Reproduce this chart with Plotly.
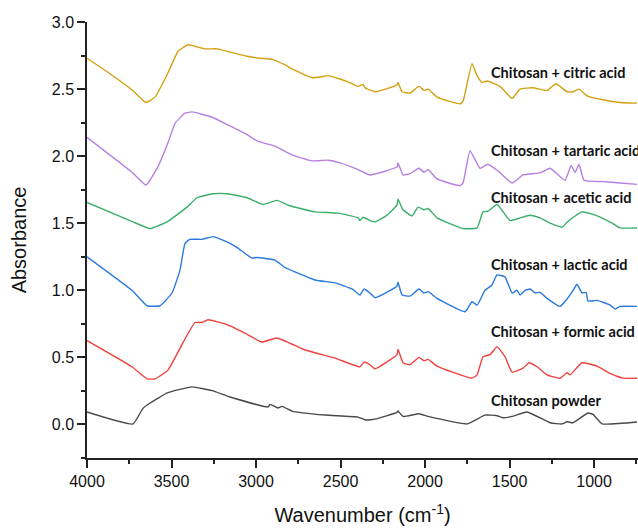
import plotly.graph_objects as go

# ---- data (wavenumber in cm-1, absorbance) ----
wn_citric = [4000, 3870, 3730, 3651, 3598, 3521, 3462, 3402, 3302, 3225, 3154, 3053, 2976, 2899, 2828, 2787,
             2669, 2620, 2574, 2503, 2450, 2396, 2367, 2355, 2296, 2166, 2160, 2136, 2089, 2036, 2006, 1982,
             1929, 1793, 1775, 1722, 1692, 1663, 1633, 1556, 1485, 1438, 1361, 1278, 1225, 1160, 1124, 1089,
             1041, 947, 846, 746]
abs_citric = [2.73, 2.62, 2.49, 2.40, 2.44, 2.62, 2.78, 2.83, 2.80, 2.80, 2.775, 2.745, 2.73, 2.72, 2.68, 2.65,
              2.585, 2.59, 2.60, 2.575, 2.55, 2.52, 2.535, 2.51, 2.48, 2.53, 2.55, 2.48, 2.47, 2.52, 2.49, 2.50,
              2.44, 2.39, 2.41, 2.69, 2.60, 2.55, 2.56, 2.52, 2.43, 2.50, 2.51, 2.49, 2.54, 2.48, 2.48, 2.50,
              2.45, 2.42, 2.40, 2.395]

wn_tartaric = [4000, 3734, 3651, 3581, 3521, 3479, 3420, 3379, 3260, 3154, 3053, 2988, 2888, 2787, 2669, 2574,
               2503, 2396, 2326, 2166, 2160, 2130, 2089, 2036, 2006, 1982, 1929, 1793, 1775, 1734, 1675, 1627,
               1568, 1485, 1420, 1320, 1260, 1172, 1136, 1112, 1089, 1059, 947, 846, 746]
abs_tartaric = [2.14, 1.88, 1.785, 1.92, 2.10, 2.245, 2.32, 2.33, 2.29, 2.225, 2.16, 2.11, 2.075, 2.01, 1.965, 1.97,
                1.95, 1.90, 1.86, 1.92, 1.95, 1.86, 1.87, 1.91, 1.88, 1.90, 1.83, 1.78, 1.80, 2.04, 1.91, 1.94,
                1.89, 1.80, 1.86, 1.875, 1.91, 1.82, 1.93, 1.88, 1.94, 1.82, 1.81, 1.80, 1.79]

wn_acetic = [4000, 3728, 3627, 3527, 3408, 3349, 3254, 3172, 3053, 2959, 2876, 2799, 2651, 2515, 2396, 2385,
             2367, 2326, 2296, 2225, 2166, 2160, 2130, 2077, 2041, 2006, 1982, 1929, 1775, 1692, 1657, 1627,
             1574, 1497, 1438, 1379, 1320, 1260, 1189, 1154, 1071, 982, 893, 846, 746]
abs_acetic = [1.655, 1.51, 1.46, 1.51, 1.62, 1.69, 1.72, 1.72, 1.69, 1.64, 1.67, 1.63, 1.585, 1.575, 1.54, 1.52,
              1.545, 1.52, 1.51, 1.56, 1.635, 1.68, 1.60, 1.555, 1.62, 1.60, 1.61, 1.54, 1.46, 1.465, 1.585, 1.59,
              1.64, 1.52, 1.54, 1.56, 1.54, 1.50, 1.47, 1.515, 1.585, 1.555, 1.50, 1.465, 1.465]

wn_lactic = [4000, 3734, 3645, 3568, 3497, 3450, 3420, 3391, 3320, 3254, 3154, 3107, 3024, 2994, 2888, 2828,
             2651, 2533, 2432, 2385, 2361, 2326, 2296, 2166, 2160, 2136, 2089, 2036, 2006, 1982, 1929, 1763,
             1722, 1692, 1645, 1604, 1574, 1527, 1485, 1456, 1438, 1408, 1379, 1349, 1320, 1278, 1201, 1160,
             1124, 1101, 1071, 1047, 1036, 982, 905, 876, 846, 746]
abs_lactic = [1.25, 1.00, 0.885, 0.885, 0.98, 1.15, 1.35, 1.38, 1.38, 1.40, 1.35, 1.315, 1.24, 1.245, 1.225, 1.17,
              1.077, 1.055, 1.01, 0.965, 1.01, 0.98, 0.945, 1.03, 1.06, 0.965, 0.957, 1.01, 0.98, 0.99, 0.94, 0.84,
              0.915, 0.89, 1.00, 1.04, 1.115, 1.10, 0.98, 1.00, 0.965, 1.00, 1.01, 0.98, 0.985, 0.94, 0.88, 0.935,
              1.00, 1.045, 0.98, 0.985, 0.92, 0.925, 0.89, 0.86, 0.88, 0.88]

wn_formic = [4000, 3734, 3645, 3598, 3521, 3432, 3361, 3320, 3284, 3183, 3154, 3065, 2965, 2876, 2710, 2533,
             2385, 2361, 2326, 2296, 2166, 2160, 2130, 2089, 2036, 2006, 1982, 1929, 1722, 1692, 1657, 1615,
             1574, 1527, 1485, 1420, 1385, 1337, 1278, 1201, 1160, 1142, 1071, 982, 905, 828, 746]
abs_formic = [0.625, 0.43, 0.34, 0.34, 0.405, 0.61, 0.76, 0.76, 0.78, 0.75, 0.735, 0.68, 0.615, 0.645, 0.555, 0.495,
              0.43, 0.465, 0.445, 0.415, 0.52, 0.56, 0.46, 0.445, 0.50, 0.475, 0.485, 0.435, 0.345, 0.37, 0.505, 0.52,
              0.58, 0.505, 0.39, 0.42, 0.46, 0.43, 0.37, 0.345, 0.385, 0.37, 0.46, 0.435, 0.38, 0.345, 0.345]

wn_powder = [4000, 3728, 3669, 3627, 3521, 3379, 3260, 3154, 2929, 2917, 2870, 2846, 2787, 2592, 2396, 2355,
             2296, 2166, 2160, 2130, 2036, 1982, 1752, 1645, 1574, 1540, 1485, 1396, 1260, 1189, 1160, 1124,
             1036, 1006, 953, 746]
abs_powder = [0.093, 0.004, 0.12, 0.16, 0.237, 0.28, 0.252, 0.205, 0.13, 0.15, 0.123, 0.135, 0.10, 0.07, 0.055, 0.035,
              0.04, 0.09, 0.10, 0.06, 0.08, 0.06, 0.004, 0.07, 0.065, 0.05, 0.06, 0.093, 0.013, 0.004, 0.02, 0.013,
              0.085, 0.075, 0.005, 0.018]

series_names = ["Chitosan + citric acid", "Chitosan + tartaric acid", "Chitosan + acetic acid",
                "Chitosan + lactic acid", "Chitosan + formic acid", "Chitosan powder"]
label_y = [2.62, 2.04, 1.695, 1.19, 0.69, 0.18]

x_ticks = [4000, 3500, 3000, 2500, 2000, 1500, 1000]
y_ticks = [0.0, 0.5, 1.0, 1.5, 2.0, 2.5, 3.0]

colors = ["#D4A012", "#B67FE3", "#3AAE6A", "#2A79E0", "#F0413F", "#4A4A4A"]
xs = [wn_citric, wn_tartaric, wn_acetic, wn_lactic, wn_formic, wn_powder]
ys = [abs_citric, abs_tartaric, abs_acetic, abs_lactic, abs_formic, abs_powder]

fig = go.Figure()
for name, x, y, c in zip(series_names, xs, ys, colors):
    fig.add_trace(go.Scatter(x=x, y=y, mode="lines", name=name,
                             line=dict(color=c, width=1.4, shape="spline", smoothing=0.4)))

for name, yv in zip(series_names, label_y):
    fig.add_annotation(x=1621, y=yv, text="<b>" + name + "</b>", showarrow=False,
                       xanchor="left", yanchor="middle",
                       font=dict(family="Lato", size=14.5, color="#111111"))

fig.update_layout(
    width=638, height=530,
    margin=dict(l=87, r=0, t=22, b=72, pad=0, autoexpand=False),
    paper_bgcolor="white", plot_bgcolor="white",
    showlegend=False,
    font=dict(family="Liberation Sans, Arial", color="#111111"),
)
fig.update_xaxes(
    range=[4000, 740], tickvals=x_ticks, ticktext=[str(v) for v in x_ticks],
    automargin=False,
    showgrid=False, zeroline=False, showline=True, linecolor="#222222", linewidth=1.5,
    ticks="outside", ticklen=8, tickwidth=1.5, tickcolor="#222222",
    tickfont=dict(size=16),
    minor=dict(dtick=250, tick0=0, ticks="outside", ticklen=4, tickwidth=1.5, tickcolor="#222222"),
    title=dict(text="Wavenumber (cm<sup>-1</sup>)", font=dict(size=20), standoff=19),
)
fig.update_yaxes(
    range=[-0.25, 3.0], tickvals=y_ticks, ticktext=["%.1f" % v for v in y_ticks],
    automargin=False,
    showgrid=False, zeroline=False, showline=True, linecolor="#222222", linewidth=1.5,
    ticks="outside", ticklen=8, tickwidth=1.5, tickcolor="#222222",
    tickfont=dict(size=16),
    minor=dict(dtick=0.25, tick0=0, ticks="outside", ticklen=4, tickwidth=1.5, tickcolor="#222222"),
    title=dict(text="Absorbance", font=dict(size=20), standoff=20),
)

fig.write_html("out.html", config={"displayModeBar": False},
               post_script="document.body.style.margin='0';document.body.style.overflow='hidden';")
